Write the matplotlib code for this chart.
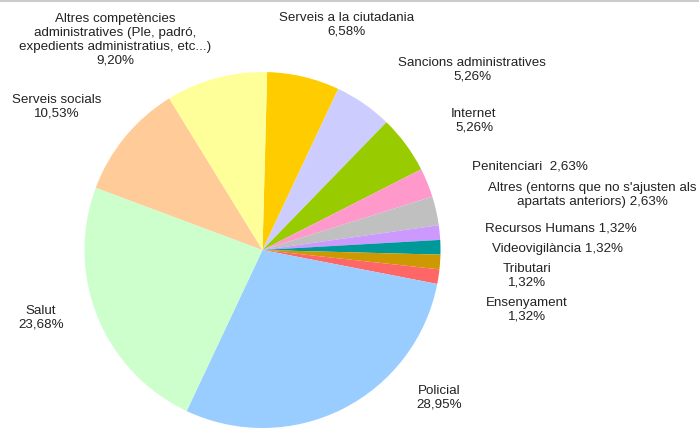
import matplotlib
matplotlib.use("Agg")
import matplotlib.pyplot as plt

plt.rcParams['font.family'] = ['Liberation Sans', 'DejaVu Sans']

categories = [
    "Serveis a la ciutadania",
    "Sancions administratives",
    "Internet",
    "Penitenciari",
    "Altres (entorns que no s'ajusten als\napartats anteriors)",
    "Recursos Humans",
    "Videovigilància",
    "Tributari",
    "Ensenyament",
    "Policial",
    "Salut",
    "Serveis socials",
    "Altres competències\nadministratives (Ple, padró,\nexpedients administratius, etc...)",
]
values = [6.58, 5.26, 5.26, 2.63, 2.63, 1.32, 1.32, 1.32, 1.32, 28.95, 23.68, 10.53, 9.20]
separators = ["\n", "\n", "\n", "  ", " ", " ", " ", "\n", "\n", "\n", "\n", "\n", "\n"]
colors = ["#FFCC00", "#CCCCFF", "#99CC00", "#FF99CC", "#C0C0C0", "#CC99FF",
          "#009999", "#CC9900", "#FF6666", "#99CCFF", "#CCFFCC", "#FFCC99", "#FFFF99"]

# label centres in pixel coordinates (x from left, y from top)
label_pos = [(347, 25), (472, 70), (474, 121), (530, 166), (592, 195), (561, 228),
             (558, 249), (527, 276), (527, 310), (439, 398), (41, 318), (57, 107), (115, 40)]

W, H = 699, 428
fig = plt.figure(figsize=(W / 100, H / 100), dpi=100)
ax = fig.add_axes([0, 0, 1, 1])

cx, cy, r = 262.5, 250, 178
ax.pie(values, colors=colors, startangle=88.5, counterclock=False,
       center=(cx, H - cy), radius=r, wedgeprops=dict(linewidth=0))

for cat, val, sep, (x, y) in zip(categories, values, separators, label_pos):
    txt = cat + sep + f"{val:.2f}".replace(".", ",") + "%"
    ax.text(x, H - y, txt, ha="center", va="center", fontsize=9.6,
            color="#222222", linespacing=1.22, multialignment="center")

ax.plot([0, W - 1], [H - 0.5, H - 0.5], color="#CCCCCC", lw=1.5, clip_on=False)

ax.set_xlim(0, W)
ax.set_ylim(0, H)
ax.set_aspect("auto")
ax.axis("off")

fig.savefig("out.png", dpi=100)
